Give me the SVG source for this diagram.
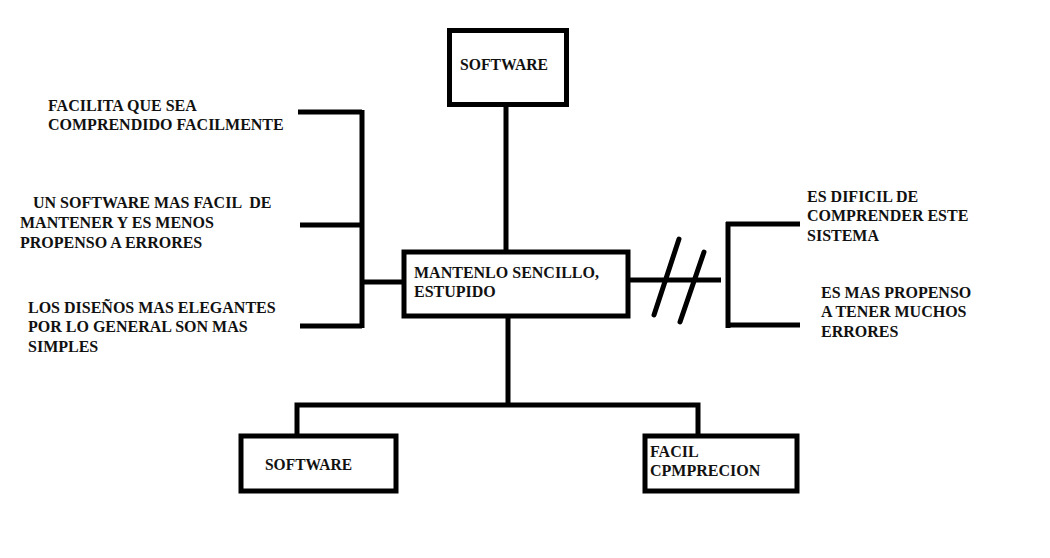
<svg xmlns="http://www.w3.org/2000/svg" width="1050" height="558" viewBox="0 0 1050 558">
<style>
.box{fill:#fff;stroke:#000;stroke-width:5}
.ln{fill:none;stroke:#000;stroke-width:5}
.sl{fill:none;stroke:#000;stroke-width:5;stroke-linecap:round}
text{font-family:"Liberation Serif","Times New Roman",serif;font-size:16px;font-weight:bold;fill:#111}
</style>
<rect width="1050" height="558" fill="#fff"/>
<g id="connectors">
<line class="ln" x1="506" y1="106" x2="506" y2="251"/>
<line class="ln" x1="508" y1="317" x2="508" y2="407"/>
<polyline class="ln" points="297,434 297,405 698,405 698,434"/>
<line class="ln" x1="362" y1="110" x2="362" y2="328"/>
<line class="ln" x1="298" y1="112" x2="362" y2="112"/>
<line class="ln" x1="300" y1="225" x2="362" y2="225"/>
<line class="ln" x1="300" y1="326" x2="362" y2="326"/>
<line class="ln" x1="362" y1="282" x2="404" y2="282"/>
<line class="ln" x1="628" y1="280" x2="721" y2="280"/>
<line class="sl" x1="679" y1="239" x2="654" y2="315"/>
<line class="sl" x1="704" y1="252" x2="680" y2="322"/>
<line class="ln" x1="728" y1="222" x2="728" y2="328"/>
<line class="ln" x1="726" y1="224" x2="800" y2="224"/>
<line class="ln" x1="726" y1="325" x2="800" y2="325"/>
</g>
<g id="software-top">
<rect class="box" x="449.5" y="30.5" width="117" height="74"/>
<text x="460" y="70" textLength="88" lengthAdjust="spacingAndGlyphs">SOFTWARE</text>
</g>
<g id="center">
<rect class="box" x="404" y="252" width="224" height="64"/>
<text x="414" y="278">MANTENLO SENCILLO,</text>
<text x="414" y="297">ESTUPIDO</text>
</g>
<g id="software-bottom">
<rect class="box" x="241" y="436" width="155" height="55"/>
<text x="265" y="470" textLength="87" lengthAdjust="spacingAndGlyphs">SOFTWARE</text>
</g>
<g id="facil">
<rect class="box" x="645" y="436" width="152" height="55"/>
<text x="650" y="457">FACIL</text>
<text x="650" y="476">CPMPRECION</text>
</g>
<g id="left-1">
<text x="48" y="111">FACILITA QUE SEA</text>
<text x="48" y="130">COMPRENDIDO FACILMENTE</text>
</g>
<g id="left-2">
<text x="33" y="208" style="white-space:pre">UN SOFTWARE MAS FACIL  DE</text>
<text x="20" y="228">MANTENER Y ES MENOS</text>
<text x="20" y="248">PROPENSO A ERRORES</text>
</g>
<g id="left-3">
<text x="28" y="313">LOS DISEÑOS MAS ELEGANTES</text>
<text x="28" y="332">POR LO GENERAL SON MAS</text>
<text x="28" y="352">SIMPLES</text>
</g>
<g id="right-1">
<text x="807" y="202">ES DIFICIL DE</text>
<text x="807" y="221">COMPRENDER ESTE</text>
<text x="807" y="241">SISTEMA</text>
</g>
<g id="right-2">
<text x="821" y="298">ES MAS PROPENSO</text>
<text x="821" y="317">A TENER MUCHOS</text>
<text x="821" y="337">ERRORES</text>
</g>
</svg>
